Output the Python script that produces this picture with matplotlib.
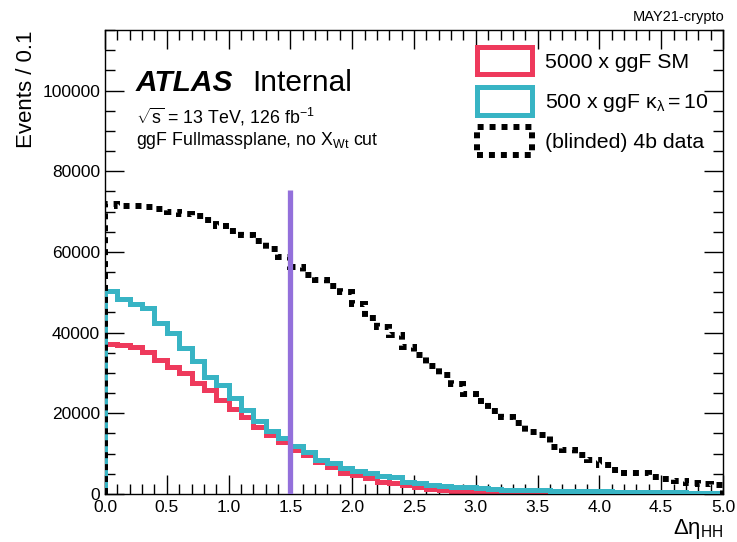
import numpy as np
import matplotlib
matplotlib.use("Agg")
import matplotlib.pyplot as plt
from matplotlib.patches import Patch
from matplotlib.ticker import MultipleLocator, FuncFormatter

plt.rcParams['font.family'] = ['Liberation Sans', 'DejaVu Sans']
plt.rcParams['mathtext.fontset'] = 'custom'
plt.rcParams['mathtext.rm'] = 'Liberation Sans'
plt.rcParams['mathtext.it'] = 'Liberation Sans'

bin_edges = np.round(np.arange(0, 5.0001, 0.1), 2)

data_4b = [71800, 71500, 71400, 71100, 70600, 69900, 69500, 68800, 67800, 66500,
           65300, 64100, 62600, 60800, 58800, 56200, 54200, 53000, 51500, 50100,
           47200, 43700, 41400, 39400, 36500, 34400, 31800, 29500, 27200, 24900,
           23000, 20600, 19100, 17500, 15400, 14600, 11700, 10900, 9650, 8400,
           7200, 5940, 5280, 5100, 4300, 3710, 3300, 2800, 2400, 2150]

sm_5000 = [37300, 36900, 36500, 35100, 33200, 31500, 30000, 27400, 25700, 23300,
           21000, 19000, 16700, 14600, 12800, 10900, 9570, 8000, 6770, 5100,
           4700, 3880, 3050, 2640, 2230, 1800, 1240, 990, 740, 500,
           400, 330, 280, 240, 200, 170, 140, 120, 100, 90,
           80, 70, 60, 50, 45, 40, 35, 30, 25, 20]

kl10_500 = [50200, 48400, 47200, 46000, 42500, 39900, 36100, 32900, 29000, 27000,
            23900, 20800, 18100, 15700, 13900, 11900, 10500, 8400, 7600, 6350,
            5770, 5100, 4450, 4300, 3050, 2800, 2230, 2100, 1800, 1650,
            1400, 1200, 1100, 1000, 950, 900, 850, 800, 750, 700,
            650, 600, 550, 500, 450, 400, 380, 350, 320, 300]

cut_value = 1.5
cut_top = 75300

red = '#EE3A5C'
cyan = '#38B4C4'
purple = '#9370DB'

fig = plt.figure(figsize=(7.37, 5.42), dpi=100)
ax = fig.add_axes([105/737, 48/542, 618/737, 464/542])

ax.stairs(sm_5000, bin_edges, baseline=0, color=red, linewidth=3.6, zorder=2)
ax.stairs(kl10_500, bin_edges, baseline=0, color=cyan, linewidth=3.6, zorder=3)
ax.stairs(data_4b, bin_edges, baseline=0, color='black', linewidth=4.3,
          linestyle=(0, (1, 1)), zorder=4)
ax.plot([cut_value, cut_value], [0, cut_top], color=purple, linewidth=3.8,
        solid_capstyle='butt', zorder=5)

ax.set_xlim(0, 5.0)
ax.set_ylim(0, 115000)

ax.xaxis.set_major_locator(MultipleLocator(0.5))
ax.xaxis.set_minor_locator(MultipleLocator(0.1))
ax.yaxis.set_major_locator(MultipleLocator(20000))
ax.yaxis.set_minor_locator(MultipleLocator(5000))
ax.xaxis.set_major_formatter(FuncFormatter(lambda v, p: f"{v:.1f}"))
ax.yaxis.set_major_formatter(FuncFormatter(lambda v, p: f"{int(round(v))}"))
ax.tick_params(which='both', direction='in', top=True, right=True, labelsize=12.5,
               width=1.0)
ax.tick_params(which='major', length=14)
ax.tick_params(which='minor', length=7)
ax.tick_params(axis='x', pad=4)
for s in ax.spines.values():
    s.set_linewidth(1.0)

ax.set_ylabel('Events / 0.1', fontsize=16, loc='top')
ax.set_xlabel(r'$\Delta\eta_{\mathrm{HH}}$', fontsize=16, loc='right', labelpad=2)

ax.text(0.05, 0.885, 'ATLAS', transform=ax.transAxes, fontsize=21.5,
        fontweight='bold', fontstyle='italic', va='center')
ax.text(0.239, 0.885, 'Internal', transform=ax.transAxes, fontsize=21.5, va='center')
ax.text(0.05, 0.812, r'$\sqrt{\mathrm{s}}$ = 13 TeV, 126 fb$^{-1}$',
        transform=ax.transAxes, fontsize=12.8, va='center')
ax.text(0.05, 0.762, r'ggF Fullmassplane, no X$_{\mathrm{Wt}}$ cut',
        transform=ax.transAxes, fontsize=12.8, va='center')

fig.text(725/737, 1 - 17/542, 'MAY21-crypto', fontsize=10.5, ha='right', va='center')

handles = [
    Patch(facecolor='none', edgecolor=red, linewidth=3.6),
    Patch(facecolor='none', edgecolor=cyan, linewidth=3.6),
    Patch(facecolor='none', edgecolor='black', linewidth=4.3, linestyle=(0, (1, 1))),
]
labels = ['5000 x ggF SM', r'500 x ggF $\kappa_{\lambda} = 10$', '(blinded) 4b data']
leg = ax.legend(handles, labels, loc='upper left', bbox_to_anchor=(0.602, 0.963),
                frameon=False, fontsize=15.3, handlelength=2.6, handleheight=1.6,
                handletextpad=0.62, labelspacing=0.6, borderaxespad=0.0,
                borderpad=0.0)

fig.savefig('out.png', dpi=100)
